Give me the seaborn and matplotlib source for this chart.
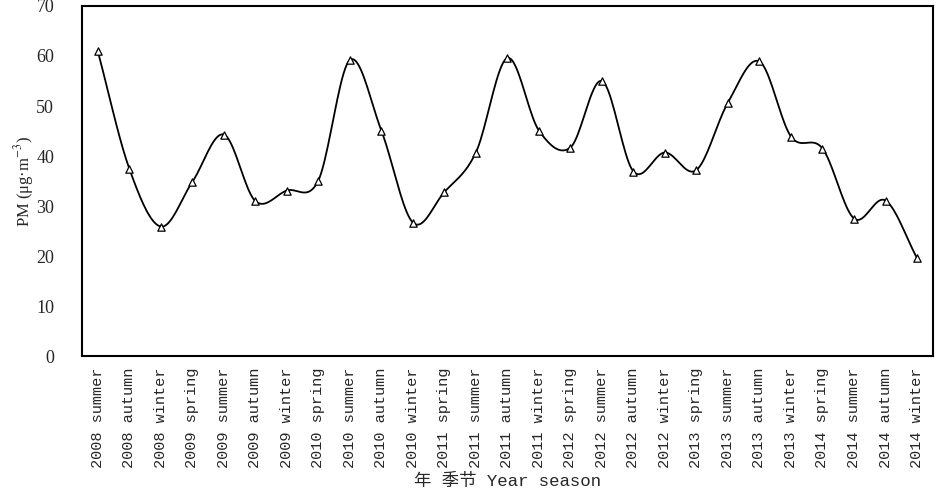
import matplotlib
matplotlib.use("Agg")
import matplotlib.pyplot as plt
import seaborn as sns
import numpy as np
import pandas as pd

# seasonal PM values
years = ["2008", "2008", "2008", "2009", "2009", "2009", "2009", "2010", "2010",
         "2010", "2010", "2011", "2011", "2011", "2011", "2012", "2012", "2012",
         "2012", "2013", "2013", "2013", "2013", "2014", "2014", "2014", "2014"]
seasons = ["summer", "autumn", "winter", "spring", "summer", "autumn", "winter",
           "spring", "summer", "autumn", "winter", "spring", "summer", "autumn",
           "winter", "spring", "summer", "autumn", "winter", "spring", "summer",
           "autumn", "winter", "spring", "summer", "autumn", "winter"]
pm = [61.0, 37.5, 25.9, 34.8, 44.3, 31.0, 33.1, 35.1, 59.2, 45.1, 26.7, 32.8,
      40.7, 59.6, 45.1, 41.7, 55.0, 36.9, 40.7, 37.2, 50.7, 58.9, 43.9, 41.5,
      27.5, 31.1, 19.6]

labels = [f"{y} {s}" for y, s in zip(years, seasons)]
df = pd.DataFrame({"pos": np.arange(len(pm)), "pm": pm, "label": labels})


def smooth_line(x, y, steps=20):
    # catmull-rom curve through the points, like a smoothed spreadsheet line
    x = np.asarray(x, float)
    y = np.asarray(y, float)
    px = np.concatenate([[2 * x[0] - x[1]], x, [2 * x[-1] - x[-2]]])
    py = np.concatenate([[2 * y[0] - y[1]], y, [2 * y[-1] - y[-2]]])
    xs, ys = [], []
    t = np.linspace(0, 1, steps, endpoint=False)
    for i in range(1, len(px) - 2):
        for arr, out in ((px, xs), (py, ys)):
            p0, p1, p2, p3 = arr[i - 1], arr[i], arr[i + 1], arr[i + 2]
            out.extend(0.5 * ((2 * p1) + (-p0 + p2) * t
                              + (2 * p0 - 5 * p1 + 4 * p2 - p3) * t ** 2
                              + (-p0 + 3 * p1 - 3 * p2 + p3) * t ** 3))
    xs.append(x[-1])
    ys.append(y[-1])
    return pd.DataFrame({"pos": xs, "pm": ys})


curve = smooth_line(df["pos"], df["pm"])

sns.set_style("white")
plt.rcParams["mathtext.fontset"] = "stix"

fig = plt.figure(figsize=(9.37, 4.98), dpi=100)
ax = fig.add_axes([0.0875, 0.285, 0.908, 0.703])

sns.lineplot(data=curve, x="pos", y="pm", ax=ax, color="black",
             linewidth=1.3, sort=False, estimator=None)
sns.scatterplot(data=df, x="pos", y="pm", ax=ax, marker="^", s=28,
                facecolor="white", edgecolor="black", linewidth=0.9, zorder=3)

ax.set_xlim(-0.5, len(pm) - 0.5)
ax.set_ylim(0, 70)
ax.set_yticks(range(0, 71, 10))
ax.set_yticklabels([str(v) for v in range(0, 71, 10)],
                   family="Liberation Serif", fontsize=13)

ax.set_xticks(df["pos"])
ax.set_xticklabels(df["label"], rotation=90, family="Liberation Mono",
                   fontsize=11)
ax.set_xticks(np.arange(0.5, len(pm) - 1, 1), minor=True)
ax.tick_params(axis="x", which="major", length=0, pad=8)
ax.tick_params(axis="x", which="minor", direction="in", length=4,
               width=0.8, color="#888888")
ax.tick_params(axis="y", direction="in", length=5, width=0.8,
               color="#888888", pad=20)

for side in ax.spines.values():
    side.set_color("black")
    side.set_linewidth(1.5)

ax.set_ylabel(r"PM (μg·m$^{-3}$)", family="Liberation Serif", fontsize=12,
              labelpad=0)
ax.set_xlabel("年 季节 Year season", family=["Liberation Mono", "Noto Sans CJK SC"],
              fontsize=12.5, labelpad=4)

fig.savefig("out.png", dpi=100)
